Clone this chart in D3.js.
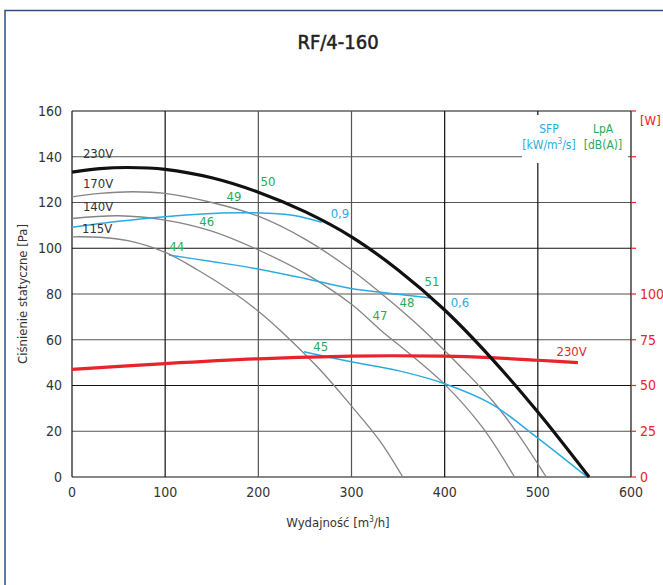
<!DOCTYPE html>
<html><head><meta charset="utf-8">
<script src="https://cdn.jsdelivr.net/npm/d3@7"></script>
<style>
body{margin:0;background:#fff;}
svg{display:block;}
text{font-family:"Liberation Sans Narrow","DejaVu Sans Condensed","Roboto",sans-serif;}
</style></head><body>
<svg id="c" width="663" height="585"></svg>
<script>
// ---- data ----
const xTicks = [0,100,200,300,400,500,600];
const yTicks = [0,20,40,60,80,100,120,140,160];
const wTicks = [0,25,50,75,100,125,150,175,200];
const wLabels = [0,25,50,75,100];
const curve230 = [[0,133.3],[30,134.8],[60,135.3],[100,134.5],[150,130.8],[200,124.5],[250,116],[300,105],[350,90.5],[400,73],[450,52],[500,28.4],[555,0]];
const curve170 = [[0,122.5],[30,124],[65,124.7],[100,124],[150,120],[200,114],[250,104],[300,90.5],[340,77.5],[377,64.3],[420,47],[452,33],[480,18],[509,0]];
const curve140 = [[0,113],[50,114.2],[100,112.3],[150,107.5],[196,100],[250,89],[300,75.5],[331,64.3],[365,53],[400,40.5],[440,22],[475,0]];
const curve115 = [[0,105],[30,104.8],[60,103.3],[100,98.2],[135,90.5],[170,81.5],[200,72.5],[223,64.3],[266,47],[300,31],[330,16],[355,0]];
const sfp09 = [[0,109.2],[50,111.8],[100,113.8],[140,115],[180,115.5],[210,115.3],[240,114.2],[268,111.3]];
const sfp06 = [[104,97],[150,94.2],[195,91.3],[250,86.8],[298,82.5],[340,80.3],[386,78.2]];
const sfpLow = [[249,54.8],[300,50.4],[350,46.5],[400,40.8],[450,32],[500,17],[553,0]];
const power230 = [[0,58.8],[100,62],[200,64.6],[300,66.1],[400,66],[450,65.2],[500,63.8],[543,62.5]];
const voltLabels = [["230V",28,141.6],["170V",28,128.4],["140V",28,118.2],["115V",27,108.7]];
const lpaLabels = [["50",210.4,129.4],["49",173.9,122.5],["46",144.6,111.9],["44",112.4,100.8],["51",386.4,85.4],["48",359.6,76.1],["47",330.6,70.8],["45",266.9,57]];
const sfpLabels = [["0,9",287.6,115.3],["0,6",416.4,76.1]];
const powerLabel = ["230V",520,68.5];

// ---- drawing ----
const svg = d3.select("#c");
const x = d3.scaleLinear([0,600],[72,631]);
const y = d3.scaleLinear([0,160],[477,111]);
const w = d3.scaleLinear([0,200],[477,111]);
const BLUE="#29abe2", GREEN="#2aa95a", RED="#e8232a", DARK="#333";

// frame
svg.append("rect").attr("x",5).attr("y",10.5).attr("width",700).attr("height",600)
  .attr("fill","none").attr("stroke","#2c4f7c").attr("stroke-width",1.5);

svg.append("text").attr("x",338).attr("y",49).attr("text-anchor","middle")
  .attr("font-size",20).attr("fill","#222").attr("stroke","#222").attr("stroke-width",0.5).text("RF/4-160");

const darkY = new Set([0,40,100,160]);
const darkX = new Set([0,100,400,500,600]);
// grid
svg.append("g").selectAll("line").data(yTicks).join("line")
  .attr("x1",x(0)).attr("x2",x(600)).attr("y1",d=>y(d)).attr("y2",d=>y(d))
  .attr("stroke",d=>darkY.has(d)?"#111":"#555").attr("stroke-width",1.2);
svg.append("g").selectAll("line").data(xTicks).join("line")
  .attr("x1",d=>x(d)).attr("x2",d=>x(d)).attr("y1",y(0)).attr("y2",y(160))
  .attr("stroke",d=>darkX.has(d)?"#111":"#555").attr("stroke-width",1.2);

// legend box (white) covering grid
svg.append("rect").attr("x",522).attr("y",115).attr("width",106).attr("height",48).attr("fill","#fff");
svg.append("text").attr("x",549).attr("y",133).attr("text-anchor","middle").attr("font-size",12).attr("fill",BLUE).text("SFP");
const t2 = svg.append("text").attr("x",549).attr("y",149).attr("text-anchor","middle").attr("font-size",12).attr("fill",BLUE);
t2.append("tspan").text("[kW/m");
t2.append("tspan").attr("dy",-5).attr("font-size",8).text("3");
t2.append("tspan").attr("dy",5).text("/s]");
svg.append("text").attr("x",603).attr("y",133).attr("text-anchor","middle").attr("font-size",12).attr("fill",GREEN).text("LpA");
svg.append("text").attr("x",603).attr("y",149).attr("text-anchor","middle").attr("font-size",12).attr("fill",GREEN).text("[dB(A)]");

// left tick labels
svg.append("g").selectAll("text").data(yTicks).join("text")
  .attr("x",62).attr("y",d=>y(d)).attr("dy","0.35em").attr("text-anchor","end")
  .attr("font-size",14).attr("fill",DARK).text(d=>d);
// bottom tick labels
svg.append("g").selectAll("text").data(xTicks).join("text")
  .attr("x",d=>x(d)).attr("y",497).attr("text-anchor","middle")
  .attr("font-size",14).attr("fill",DARK).text(d=>d);
// right axis ticks
svg.append("g").selectAll("line").data(wTicks).join("line")
  .attr("x1",x(600)).attr("x2",x(600)+5).attr("y1",d=>w(d)).attr("y2",d=>w(d))
  .attr("stroke",RED).attr("stroke-width",1.2);
svg.append("g").selectAll("text").data(wLabels).join("text")
  .attr("x",640).attr("y",d=>w(d)).attr("dy","0.35em")
  .attr("font-size",14).attr("fill",RED).text(d=>d);
svg.append("text").attr("x",640).attr("y",125).attr("font-size",13).attr("fill",RED).text("[W]");

// axis titles
const xt = svg.append("text").attr("x",338).attr("y",527).attr("text-anchor","middle").attr("font-size",13).attr("fill",DARK);
xt.append("tspan").text("Wydajność [m");
xt.append("tspan").attr("dy",-5).attr("font-size",8).text("3");
xt.append("tspan").attr("dy",5).text("/h]");
svg.append("text").attr("transform","translate(27,294) rotate(-90)").attr("text-anchor","middle")
  .attr("font-size",13).attr("fill",DARK).text("Ciśnienie statyczne [Pa]");

// curves
const cur = d3.curveCatmullRom.alpha(0.5);
const line = d3.line().x(d=>x(d[0])).y(d=>y(d[1])).curve(cur);
const lineW = d3.line().x(d=>x(d[0])).y(d=>w(d[1])).curve(cur);
[curve170,curve140,curve115].forEach(c=>{
  svg.append("path").attr("d",line(c)).attr("fill","none").attr("stroke","#858585").attr("stroke-width",1.3);
});
[sfp09,sfp06,sfpLow].forEach(c=>{
  svg.append("path").attr("d",line(c)).attr("fill","none").attr("stroke",BLUE).attr("stroke-width",1.5);
});
svg.append("path").attr("d",lineW(power230)).attr("fill","none").attr("stroke",RED).attr("stroke-width",3.2);
svg.append("path").attr("d",line(curve230)).attr("fill","none").attr("stroke","#111").attr("stroke-width",3.2);

// labels
svg.append("g").selectAll("text").data(voltLabels).join("text")
  .attr("x",d=>x(d[1])).attr("y",d=>y(d[2])).attr("dy","0.35em").attr("text-anchor","middle")
  .attr("font-size",13).attr("fill",DARK).text(d=>d[0]);
svg.append("g").selectAll("text").data(lpaLabels).join("text")
  .attr("x",d=>x(d[1])).attr("y",d=>y(d[2])).attr("dy","0.35em").attr("text-anchor","middle")
  .attr("font-size",13).attr("fill",GREEN).text(d=>d[0]);
svg.append("g").selectAll("text").data(sfpLabels).join("text")
  .attr("x",d=>x(d[1])).attr("y",d=>y(d[2])).attr("dy","0.35em").attr("text-anchor","middle")
  .attr("font-size",13).attr("fill",BLUE).text(d=>d[0]);
svg.append("text").attr("x",x(powerLabel[1])).attr("y",w(powerLabel[2])).attr("dy","0.35em").attr("text-anchor","start")
  .attr("font-size",13).attr("fill",RED).text(powerLabel[0]);
</script></body></html>
